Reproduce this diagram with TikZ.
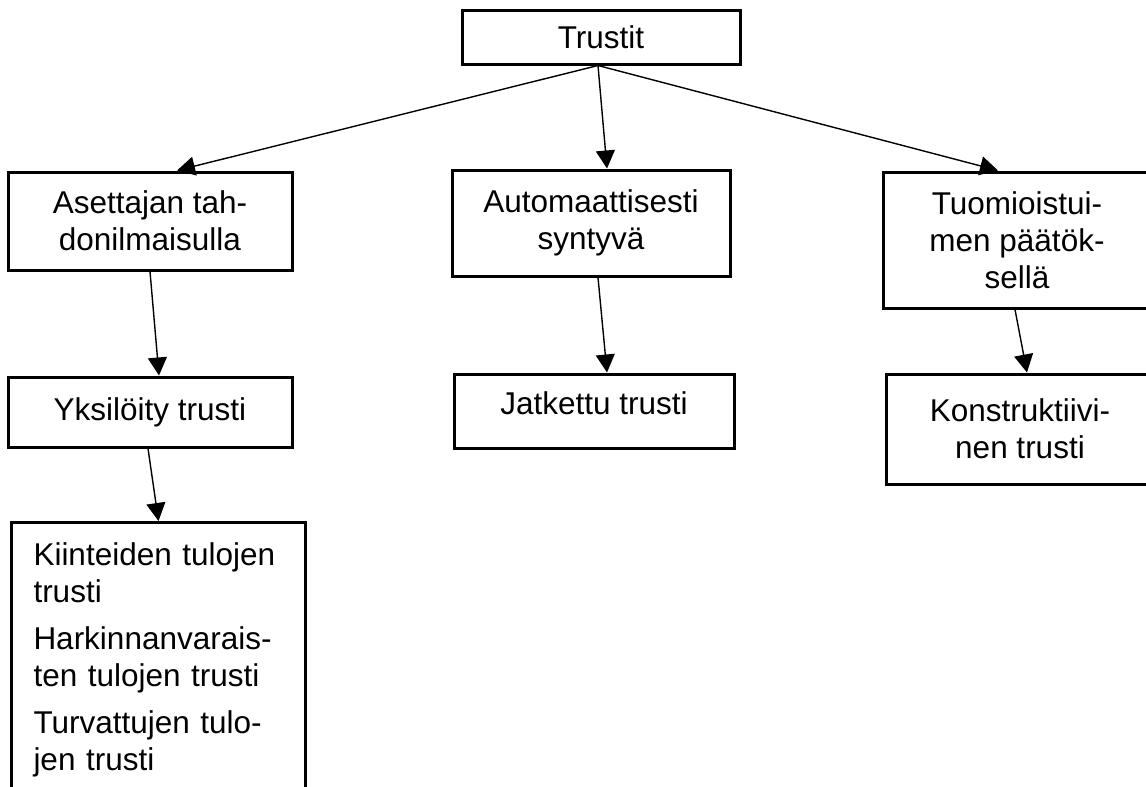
\documentclass[tikz,border=0pt]{standalone}
\usepackage{fontspec}
\setmainfont{Liberation Sans}
\usetikzlibrary{arrows.meta}
\newcommand\tekstikoko{\fontsize{15.75pt}{18.5pt}\selectfont}
\begin{document}
\begin{tikzpicture}[x=0.5pt,y=-0.5pt,
    laatikko/.style={draw, line width=1.5pt, align=center, inner sep=0pt, font=\tekstikoko},
    nuoli/.style={line width=0.7pt, -{Triangle[length=9pt,width=9.5pt]}}]
  \useasboundingbox (0,0) rectangle (1146,787);
  \clip (0,0) rectangle (1146,787);
  % ylin taso
  \node[laatikko, minimum width=139pt, minimum height=27pt] (trustit) at (601,37) {Trustit};
  % toinen taso
  \node[laatikko, minimum width=142pt, minimum height=49pt] (asettaja) at (150,221) {Asettajan tah-\\donilmaisulla};
  \node[laatikko, minimum width=139pt, minimum height=53pt] (autom) at (591,223) {Automaattisesti\\syntyvä};
  \node[laatikko, minimum width=134pt, minimum height=68pt] (tuomio) at (1017,240) {Tuomioistui-\\men päätök-\\sellä};
  % kolmas taso
  \node[laatikko, minimum width=142pt, minimum height=35pt] (yksil) at (150,412) {Yksilöity trusti};
  \node[laatikko, minimum width=140pt, minimum height=37pt, text depth=8pt] (jatko) at (594,411) {Jatkettu trusti};
  \node[laatikko, minimum width=134pt, minimum height=55pt] (konstr) at (1020,429) {Konstruktiivi-\\nen trusti};
  % alin laatikko jatkuu kuvan alareunan yli
  \node[laatikko, align=left, anchor=north west, text width=125pt, inner xsep=11pt, inner ysep=10pt, text depth=160pt] (lista) at (10,521)
    {Kiinteiden tulojen\\trusti\\[5pt]Harkinnanvarais-\\ten tulojen trusti\\[5pt]Turvattujen tulo-\\jen trusti};
  % nuolet
  \draw[nuoli] ([xshift=-1.5pt]trustit.south) -- ([xshift=13.5pt]asettaja.north);
  \draw[nuoli] ([xshift=-1.5pt]trustit.south) -- ([xshift=8pt]autom.north);
  \draw[nuoli] ([xshift=-1.5pt]trustit.south) -- ([xshift=-9.5pt]tuomio.north);
  \draw[nuoli] (asettaja.south) -- ([xshift=4.5pt]yksil.north);
  \draw[nuoli] ([xshift=-1pt]yksil.south) -- (lista.north);
  \draw[nuoli] ([xshift=3.5pt]autom.south) -- ([xshift=6.5pt]jatko.north);
  \draw[nuoli] ([xshift=-1pt]tuomio.south) -- ([xshift=3.5pt]konstr.north);
\end{tikzpicture}
\end{document}
